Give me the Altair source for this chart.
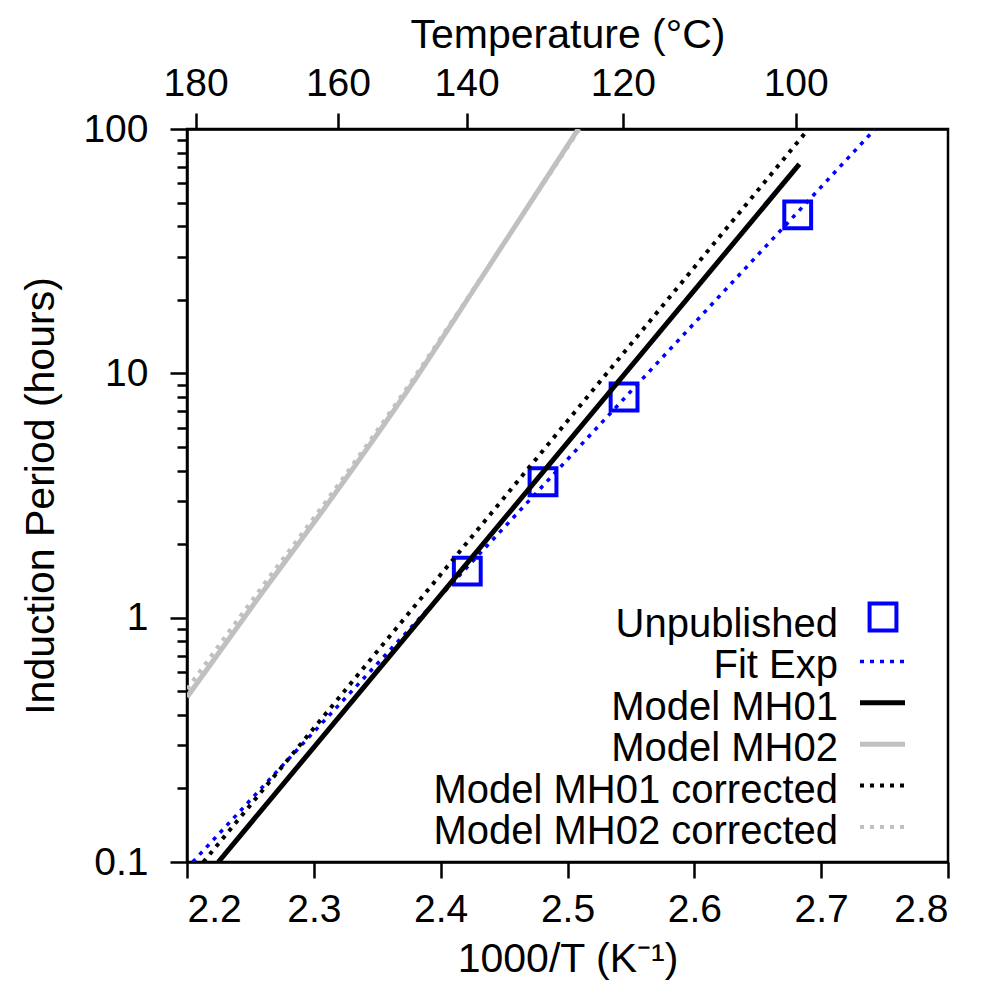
import altair as alt
import pandas as pd

# ---------------- data ----------------
EXP_X = [2.421, 2.4807, 2.5446, 2.6815]
EXP_Y = [1.55, 3.6, 8.0, 44.5]

FIT_X = [2.2045, 2.7425]
FIT_Y = [0.1, 100]

MH01_X = [2.2247, 2.6828]
MH01_Y = [0.1, 71.8]

MH02_X = [2.2, 2.255, 2.3114, 2.3772, 2.4271, 2.5085]
MH02_Y = [0.473, 1.18, 2.95, 9.02, 22.4, 100]

MH01C_X = [2.2129, 2.690]
MH01C_Y = [0.1, 100]

MH02C_X = [2.2, 2.255, 2.3114, 2.3772, 2.4271, 2.5095]
MH02C_Y = [0.51, 1.25, 3.08, 9.3, 22.6, 100]

X_TICKS = [2.2, 2.3, 2.4, 2.5, 2.6, 2.7, 2.8]
Y_MAJOR = [0.1, 1, 10, 100]
Y_MINOR = [0.2, 0.3, 0.4, 0.5, 0.6, 0.7, 0.8, 0.9,
           2, 3, 4, 5, 6, 7, 8, 9,
           20, 30, 40, 50, 60, 70, 80, 90]
TEMP_POS = [2.2068, 2.319, 2.4204, 2.5436, 2.6799]
TEMP_LABELS = ["180", "160", "140", "120", "100"]

LEGEND_LABELS = ["Unpublished", "Fit Exp", "Model MH01", "Model MH02",
                 "Model MH01 corrected", "Model MH02 corrected"]

FONT = "Liberation Sans"
BLUE = "#0000ff"
GREY = "#c0c0c0"

# ---------------- scales & axes ----------------
xs = alt.Scale(domain=[2.2, 2.8], nice=False, zero=False)
ys = alt.Scale(type="log", domain=[0.1, 100], nice=False)

top_expr = "".join(
    f"abs(datum.value - {p}) < 1e-6 ? '{l}' : " for p, l in zip(TEMP_POS, TEMP_LABELS)
) + "''"

bottom_axis = alt.Axis(orient="bottom", values=X_TICKS, format=".1f", tickSize=16,
                       labelPadding=12, title="1000/T (K⁻¹)", titlePadding=10, grid=False)
top_axis = alt.Axis(orient="top", values=TEMP_POS, labelExpr=top_expr, tickSize=16,
                    labelPadding=10, title="Temperature (°C)", titlePadding=8, grid=False)
y_major = alt.Axis(orient="left", values=Y_MAJOR, labelExpr="format(datum.value, '~g')",
                   tickSize=17, labelPadding=22, title="Induction Period (hours)",
                   titlePadding=20, grid=False, labelOverlap=False)
y_minor = alt.Axis(orient="left", values=Y_MINOR, labels=False, tickSize=10,
                   domain=False, title=None, grid=False)


def df(xv, yv):
    return pd.DataFrame({"x": xv, "y": yv})


squares = alt.Chart(df(EXP_X, EXP_Y)).mark_point(
    shape="square", filled=False, size=720, strokeWidth=4, color=BLUE, opacity=1
).encode(x=alt.X("x:Q", scale=xs, axis=None), y=alt.Y("y:Q", scale=ys, axis=None))

fit = alt.Chart(df(FIT_X, FIT_Y)).mark_line(
    color=BLUE, strokeWidth=3.5, strokeDash=[4, 6], clip=True
).encode(x=alt.X("x:Q", scale=xs, axis=bottom_axis), y=alt.Y("y:Q", scale=ys, axis=y_major))

mh01 = alt.Chart(df(MH01_X, MH01_Y)).mark_line(
    color="black", strokeWidth=5, clip=True
).encode(x=alt.X("x:Q", scale=xs, axis=top_axis), y=alt.Y("y:Q", scale=ys, axis=y_minor))

mh02 = alt.Chart(df(MH02_X, MH02_Y)).mark_line(
    color=GREY, strokeWidth=5, clip=True, interpolate="monotone"
).encode(x=alt.X("x:Q", scale=xs, axis=None), y=alt.Y("y:Q", scale=ys, axis=None))

mh01c = alt.Chart(df(MH01C_X, MH01C_Y)).mark_line(
    color="black", strokeWidth=4, strokeDash=[4, 6], clip=True
).encode(x=alt.X("x:Q", scale=xs, axis=None), y=alt.Y("y:Q", scale=ys, axis=None))

mh02c = alt.Chart(df(MH02C_X, MH02C_Y)).mark_line(
    color=GREY, strokeWidth=4, strokeDash=[4, 6], clip=True, interpolate="monotone"
).encode(x=alt.X("x:Q", scale=xs, axis=None), y=alt.Y("y:Q", scale=ys, axis=None))

# ---------------- manual legend (labels left, symbols right) ----------------
LEG_TEXT_X = 651
LEG_SYM_X1, LEG_SYM_X2, LEG_SQ_X = 673, 718, 696
LEG_Y0, LEG_DY = 496, 41.4

sym_styles = [
    None,
    dict(color=BLUE, strokeWidth=3.5, strokeDash=[4, 6]),
    dict(color="black", strokeWidth=5),
    dict(color=GREY, strokeWidth=5),
    dict(color="black", strokeWidth=4, strokeDash=[4, 6]),
    dict(color=GREY, strokeWidth=4, strokeDash=[4, 6]),
]

legend_layers = []
for i, lab in enumerate(LEGEND_LABELS):
    ty = LEG_Y0 + LEG_DY * i
    one = pd.DataFrame({"label": [lab]})
    legend_layers.append(
        alt.Chart(one).mark_text(align="right", baseline="middle", font=FONT,
                                 fontSize=40, color="black")
        .encode(text="label:N", x=alt.value(LEG_TEXT_X), y=alt.value(ty))
    )
    sy = ty - 5
    if sym_styles[i] is None:
        legend_layers.append(
            alt.Chart(one).mark_point(shape="square", filled=False, size=720,
                                      strokeWidth=4, color=BLUE, opacity=1)
            .encode(x=alt.value(LEG_SQ_X), y=alt.value(sy - 3))
        )
    else:
        legend_layers.append(
            alt.Chart(one).mark_rule(**sym_styles[i])
            .encode(x=alt.value(LEG_SYM_X1), x2=alt.value(LEG_SYM_X2), y=alt.value(sy))
        )

chart = alt.layer(squares, fit, mh01, mh02, mh01c, mh02c, *legend_layers).resolve_axis(
    x="independent", y="independent"
).properties(
    width=761, height=733,
    autosize=alt.AutoSizeParams(type="none"),
    padding={"left": 179, "top": 121, "right": 40, "bottom": 120},
).configure_view(
    stroke="black", strokeWidth=2.5
).configure_axis(
    domainColor="black", domainWidth=2.5, tickColor="black", tickWidth=2.5,
    labelFont=FONT, labelFontSize=39, labelColor="black",
    titleFont=FONT, titleFontSize=41, titleFontWeight="normal", titleColor="black",
)

chart.save("out.html", embed_options={"renderer": "svg", "actions": False})
